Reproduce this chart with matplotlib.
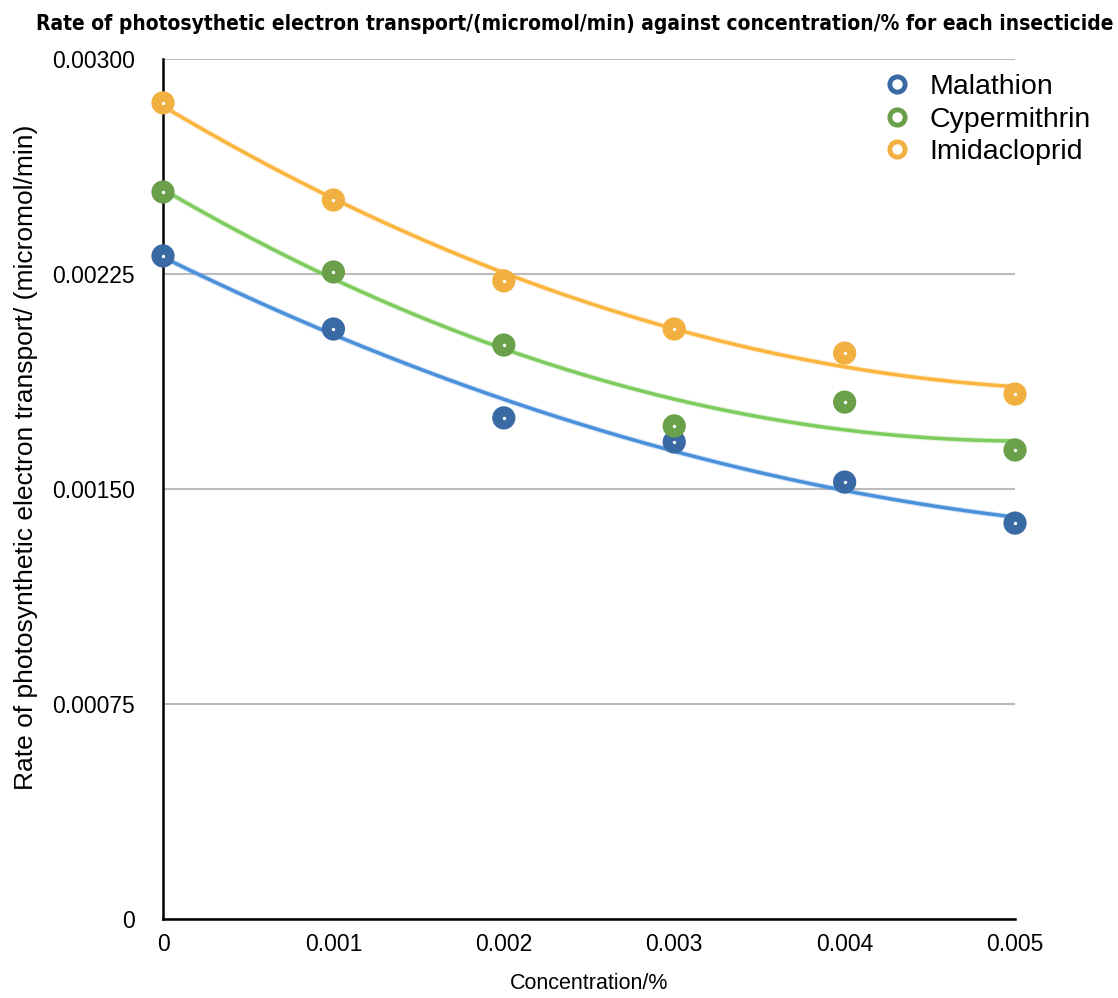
import numpy as np
import matplotlib.pyplot as plt
from matplotlib.lines import Line2D

# concentration (%) and rates (micromol/min)
conc = [0, 0.001, 0.002, 0.003, 0.004, 0.005]
malathion = [0.002313, 0.002058, 0.001748, 0.001664, 0.001524, 0.001381]
cypermithrin = [0.002536, 0.002257, 0.002002, 0.001720, 0.001803, 0.001636]
imidacloprid = [0.002847, 0.002508, 0.002226, 0.002058, 0.001974, 0.001831]

names = ["Malathion", "Cypermithrin", "Imidacloprid"]
series = [malathion, cypermithrin, imidacloprid]
dot_colors = ["#3a6aa3", "#6ba04b", "#f1b040"]
line_colors = ["#4a90da", "#7dcc5d", "#fbb53f"]

plt.rcParams['font.family'] = ['Liberation Sans', 'DejaVu Sans']

fig = plt.figure(figsize=(11.18, 9.98), dpi=100)
ax = fig.add_axes([0.1458, 0.0792, 0.7621, 0.8617])

x = np.array(conc)
xs = np.linspace(0, 0.005, 200)
for vals, dc, lc in zip(series, dot_colors, line_colors):
    # polynomial (order 2) trendline, like the spreadsheet one
    p = np.polyfit(x, vals, 2)
    ax.plot(xs, np.polyval(p, xs), color=lc, lw=4, alpha=0.25, zorder=2, solid_capstyle='butt')
    ax.plot(xs, np.polyval(p, xs), color=lc, lw=2.5, zorder=3)
    ax.scatter(x, vals, s=280, color=dc, zorder=4, clip_on=False, edgecolors='none')
    ax.scatter(x, vals, s=2, color='white', zorder=5, clip_on=False)

ax.set_xlim(0, 0.005)
ax.set_ylim(0, 0.003)
ax.set_xticks(conc)
ax.set_xticklabels(["0", "0.001", "0.002", "0.003", "0.004", "0.005"])
ax.set_yticks([0, 0.00075, 0.0015, 0.00225, 0.003])
ax.set_yticklabels(["0", "0.00075", "0.00150", "0.00225", "0.00300"])
ax.tick_params(axis='both', length=0, labelsize=16.5)
ax.tick_params(axis='y', pad=20)
ax.tick_params(axis='x', pad=10)
ax.yaxis.grid(True, color='#bbbbbb', lw=1.5)
ax.set_axisbelow(True)
for s in ['top', 'right']:
    ax.spines[s].set_visible(False)
ax.spines['left'].set_linewidth(1.8)
ax.spines['bottom'].set_linewidth(1.8)

ax.set_xlabel("Concentration/%", fontsize=15.5, labelpad=12)
ax.set_ylabel("Rate of photosynthetic electron transport/ (micromol/min)", fontsize=19)
ax.yaxis.set_label_coords(-0.147, 0.537)
fig.text(0.514, 0.976, "Rate of photosythetic electron transport/(micromol/min) against concentration/% for each insecticide",
         ha='center', va='center', fontsize=15, fontweight='bold', fontstretch='condensed',
         family=['DejaVu Sans'])

handles = [Line2D([], [], ls='none', marker='o', markersize=11, markerfacecolor='white',
                  markeredgecolor=c, markeredgewidth=3.5) for c in dot_colors]
ax.legend(handles, names, loc='upper right', bbox_to_anchor=(1.119, 1.012), frameon=False,
          fontsize=20.5, handletextpad=0.15, labelspacing=0.22)

fig.savefig("out.png")
